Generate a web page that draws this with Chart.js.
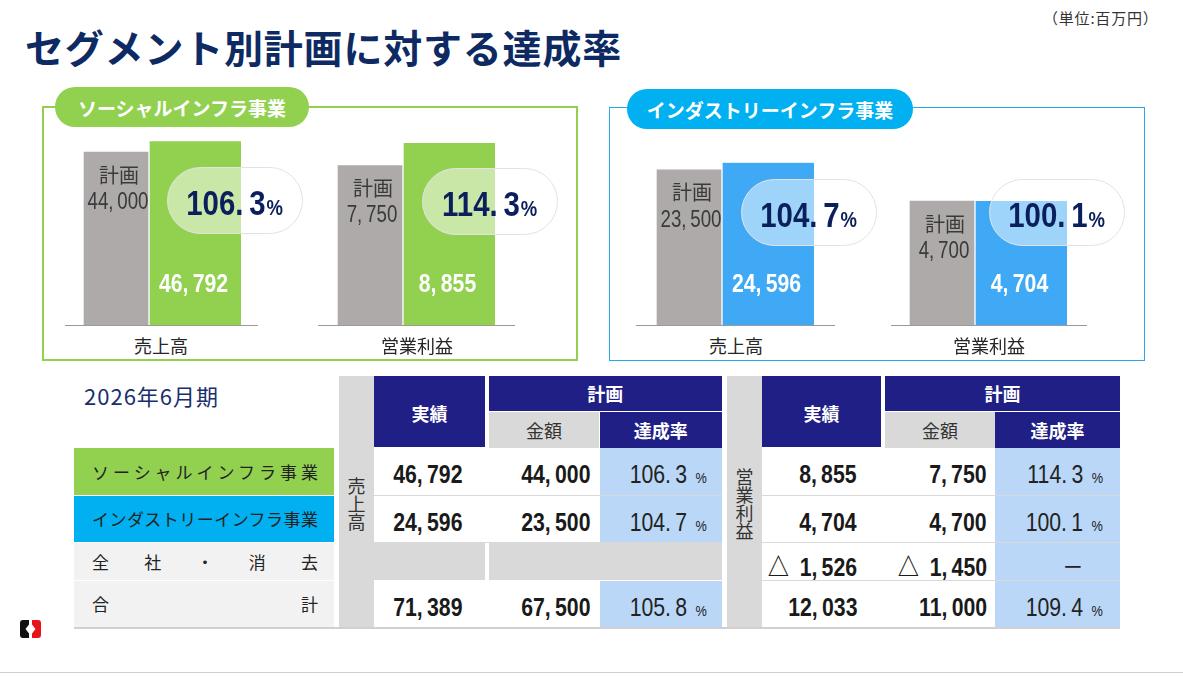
<!DOCTYPE html>
<html lang="ja">
<head>
<meta charset="utf-8">
<script src="https://cdn.jsdelivr.net/npm/chart.js@4.4.1/dist/chart.umd.min.js"></script>
<style>
  body { margin: 0; width: 1183px; height: 677px; position: relative; overflow: hidden; background: #fff;
         font-family: "Noto Sans CJK JP", sans-serif; color: #222; }
  .abs { position: absolute; box-sizing: border-box; }
  .num { font-family: "Liberation Sans", "Noto Sans CJK JP", sans-serif; display: inline-block; white-space: nowrap;
         transform: scaleX(0.85); transform-origin: right center; }
  .c { display: flex; align-items: center; justify-content: center; }
  .pill { border-radius: 34px; background: rgba(255,255,255,0.5); border: 1px solid #e2e2e2; color: #0b1f5c; padding-top: 4px; }
  .pill .num { transform: scaleX(0.84); transform-origin: center; }
  .pill .big { font-size: 35px; font-weight: bold; }
  .pill .pct { font-size: 22px; font-weight: bold; margin-left: 1px; }
  .tag { border-radius: 20px; color: #fff; font-weight: bold; font-size: 19px; }
  .cell { display: flex; align-items: center; justify-content: flex-end; padding-top: 6px; font-size: 25px; white-space: nowrap; }
</style>
</head>
<body>
<div class="abs" style="left:25px;top:20px;height:52px;line-height:52px;font-size:39px;letter-spacing:0.8px;font-weight:bold;color:#0e2a63;white-space:nowrap">セグメント別計画に対する達成率</div>
<div class="abs" style="left:1043px;top:7px;height:22px;line-height:22px;font-size:15px;letter-spacing:0.8px;color:#333;white-space:nowrap">（単位:百万円）</div>

<div class="abs" style="left:42px;top:106px;width:536px;height:255px;border:2px solid #92d050"></div>
<div class="abs" style="left:609px;top:107px;width:536px;height:254px;border:1.5px solid #29a9e1"></div>

<div class="abs" style="left:84px;top:380px;height:30px;line-height:30px;font-size:22px;letter-spacing:1px;color:#1a2f6d;white-space:nowrap">2026年6月期</div>
<div class="abs" style="left:0;top:672px;width:1183px;height:1px;background:#d0d0d0"></div>
<svg class="abs" style="left:20px;top:620px" width="21" height="18" viewBox="0 0 21 18">
  <path d="M0,3 Q0,0 3,0 H9 V4.5 L5.5,9 L9,13.5 V18 H3 Q0,18 0,15 Z" fill="#111"/>
  <path d="M21,3 Q21,0 18,0 H12 V4.5 L15.5,9 L12,13.5 V18 H18 Q21,18 21,15 Z" fill="#e8141b"/>
</svg>

<script>
// data
const segments = ['ソーシャルインフラ事業', 'インダストリーインフラ事業'];
const categories = ['売上高', '営業利益'];
const socialPlan = [44000, 7750];
const socialActual = [46792, 8855];
const socialRate = [106.3, 114.3];
const industryPlan = [23500, 4700];
const industryActual = [24596, 4704];
const industryRate = [104.7, 100.1];

const rowLabels = ['ソーシャルインフラ事業', 'インダストリーインフラ事業', '全社・消去', '合計'];
const salesActual = [46792, 24596, null, 71389];
const salesPlan = [44000, 23500, null, 67500];
const salesRate = [106.3, 104.7, null, 105.8];
const opActual = [8855, 4704, -1526, 12033];
const opPlan = [7750, 4700, -1450, 11000];
const opRate = [114.3, 100.1, null, 109.4];

const NUMFONT = '"Liberation Sans", sans-serif';
const fmt = n => (n < 0 ? '△\u2002' : '') + Math.abs(n).toLocaleString('en-US').replace(/,/g, ',\u2009');
const fmtRate = r => r.toFixed(1).replace('.', '.\u2009');

function box(left, top, w, h, css, html, cls) {
  const d = document.createElement('div');
  d.className = 'abs ' + (cls || '');
  d.style.cssText = `left:${left}px;top:${top}px;width:${w}px;height:${h}px;` + (css || '');
  if (html != null) d.innerHTML = html;
  document.body.appendChild(d);
  return d;
}

// narrow text on canvas
function narrowText(ctx, text, x, y, sx) {
  ctx.save();
  ctx.translate(x, y);
  ctx.scale(sx, 1);
  ctx.fillText(text, 0, 0);
  ctx.restore();
}

// panels
const panelColors = ['#92d050', '#3fa9f5'];
const tagColors = ['#92d050', '#00b0f0'];
const tagPos = [[55, 87, 254], [627, 89, 286]];
const centers = [[148, 401.5], [721, 973.5]];
const baseLines = [[[65, 258], [318, 515]], [[636, 835], [891, 1087]]];
const catCenters = [[161, 417], [736, 989]];
const pillPos = [[[167, 167], [422, 168]], [[741, 179], [989, 179]]];
const yMax = [[50900, 9730], [30300, 7590]];
const planSets = [socialPlan, industryPlan];
const actualSets = [socialActual, industryActual];
const rateSets = [socialRate, industryRate];

const valueLabels = {
  id: 'valueLabels',
  afterDatasetsDraw(chart) {
    const ctx = chart.ctx;
    const p = chart.getDatasetMeta(0).data[0];
    const a = chart.getDatasetMeta(1).data[0];
    ctx.save();
    ctx.textAlign = 'center';
    ctx.textBaseline = 'middle';
    ctx.fillStyle = '#3a3a3a';
    ctx.font = '20px "Noto Sans CJK JP", sans-serif';
    ctx.fillText('計画', p.x + 3, p.y + 23);
    ctx.font = '24px ' + NUMFONT;
    narrowText(ctx, fmt(chart.data.datasets[0].data[0]), p.x + 2, p.y + 50, 0.78);
    ctx.fillStyle = '#fff';
    ctx.font = 'bold 25px ' + NUMFONT;
    narrowText(ctx, fmt(chart.data.datasets[1].data[0]), a.x - 1, a.base - 40, 0.85);
    ctx.restore();
  }
};

segments.forEach((seg, s) => {
  box(tagPos[s][0], tagPos[s][1], tagPos[s][2], 40, 'background:' + tagColors[s], seg, 'tag c');
  categories.forEach((cat, k) => {
    const c = centers[s][k];
    const [b0, b1] = baseLines[s][k];
    const cv = document.createElement('canvas');
    cv.width = 240; cv.height = 200;
    cv.className = 'abs';
    cv.style.cssText = `left:${c - 120}px;top:125px;width:240px;height:200px`;
    document.body.appendChild(cv);
    new Chart(cv, {
      type: 'bar',
      data: {
        labels: [cat],
        datasets: [
          { data: [planSets[s][k]], backgroundColor: '#aeaaaa', barThickness: 64, borderWidth: 0 },
          { data: [actualSets[s][k]], backgroundColor: panelColors[s], barThickness: 93,
            borderColor: '#fff', borderWidth: { left: 2, top: 0, right: 0, bottom: 0 }, borderSkipped: false }
        ]
      },
      options: {
        responsive: false, animation: false, events: [],
        layout: { padding: 0 },
        plugins: { legend: { display: false }, tooltip: { enabled: false } },
        scales: {
          x: { display: false },
          y: { display: false, min: 0, max: yMax[s][k] }
        }
      },
      plugins: [valueLabels]
    });
    box(b0, 324.5, b1 - b0, 1.5, 'background:#9a9a9a');
    box(catCenters[s][k] - 60, 332, 120, 26, 'font-size:18px;color:#262626', cat, 'c');
    const [px, py] = pillPos[s][k];
    box(px, py, 136, 67, '',
      `<span class="num"><span class="big">${fmtRate(rateSets[s][k])}</span><span class="pct">%</span></span>`, 'pill c');
  });
});

// table
const rowTop = [448, 496, 543, 581];
const rowH = [47, 46, 37, 46];
const labelBg = ['#92d050', '#00b0f0', '#f2f2f2', '#f2f2f2'];
const NAVY = '#1f1f85';
rowLabels.forEach((lab, r) => {
  box(74, rowTop[r], 260, rowH[r], 'background:' + labelBg[r]);
  box(92, rowTop[r], 226, rowH[r],
    `line-height:${rowH[r]}px;font-size:17px;color:#222;text-align:justify;text-align-last:justify;white-space:nowrap`, lab);
});

const sections = [
  { name: '売上高', vert: 339, act: [374, 111, 23], plan: [489, 110, 9], rate: [600, 121.5, 14.5],
    actual: salesActual, planV: salesPlan, rateV: salesRate },
  { name: '営業利益', vert: 727, act: [762, 119, 24], plan: [885, 110, 8], rate: [995, 125, 17],
    actual: opActual, planV: opPlan, rateV: opRate }
];
sections.forEach(sec => {
  box(sec.vert, 376, 35, 251, 'background:#d9d9d9');
  box(sec.vert, 450, 35, 107, '', `<span style="writing-mode:vertical-rl;text-orientation:upright;font-size:18px;color:#333;line-height:1">${sec.name}</span>`, 'c');
  box(sec.act[0], 376, sec.act[1], 71, `background:${NAVY};color:#fff;font-weight:bold;font-size:18px;padding-top:3px`, '実績', 'c');
  const planW = sec.rate[0] + sec.rate[1] - sec.plan[0];
  box(sec.plan[0], 376, planW, 34.7, `background:${NAVY};color:#fff;font-weight:bold;font-size:18px`, '計画', 'c');
  box(sec.plan[0], 412, sec.plan[1], 35.7, 'background:#d9d9d9;color:#333;font-size:18px', '金額', 'c');
  box(sec.rate[0], 412, sec.rate[1], 35.7, `background:${NAVY};color:#fff;font-weight:bold;font-size:18px`, '達成率', 'c');
  rowLabels.forEach((lab, r) => {
    const t = rowTop[r], h = rowH[r];
    if (sec.actual[r] == null) {
      box(sec.act[0], t, sec.act[1], h, 'background:#d9d9d9');
      box(sec.plan[0], t, planW, h, 'background:#d9d9d9');
      return;
    }
    box(sec.act[0], t, sec.act[1], h, `padding-right:${sec.act[2]}px;font-weight:bold;color:#1a1a1a`,
      `<span class="num">${fmt(sec.actual[r])}</span>`, 'cell');
    box(sec.plan[0], t, sec.plan[1], h, `padding-right:${sec.plan[2]}px;font-weight:bold;color:#1a1a1a`,
      `<span class="num">${fmt(sec.planV[r])}</span>`, 'cell');
    const rv = sec.rateV[r];
    box(sec.rate[0], t, sec.rate[1], h, `background:#bad7f7;padding-right:${sec.rate[2]}px;color:#222`,
      `<span class="num">${rv == null ? '－' : fmtRate(rv)}<span style="font-size:15px;margin-left:10px;${rv == null ? 'visibility:hidden' : ''}">%</span></span>`, 'cell');
    if (r < 3) box(sec.act[0], t + h, sec.rate[0] + sec.rate[1] - sec.act[0], 1, 'background:#d9d9d9');
  });
});
box(74, 627, 1046, 1.5, 'background:#d0d0d0');
</script>
</body>
</html>
